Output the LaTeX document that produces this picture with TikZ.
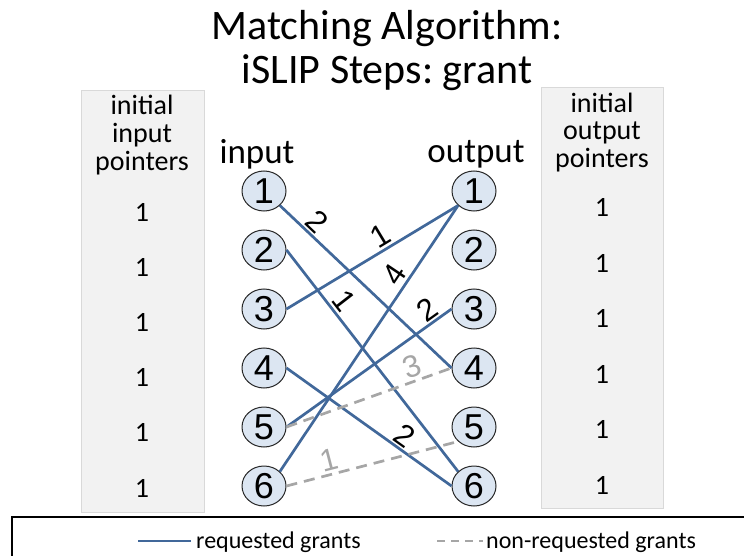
\documentclass[tikz,border=0pt]{standalone}
\usepackage{fontspec}
\setmainfont{Carlito}
\newfontfamily\digitfont{Liberation Sans}
\usetikzlibrary{shapes.geometric}
\definecolor{grantblue}{HTML}{41689A}
\definecolor{grantgray}{HTML}{A6A6A6}
\definecolor{portfill}{HTML}{DCE6F2}
\definecolor{panelfill}{HTML}{F2F2F2}
\definecolor{panelline}{HTML}{D9D9D9}
\frenchspacing
\begin{document}
\begin{tikzpicture}[x=1pt,y=1pt,
  port/.style={ellipse, draw=black!85, line width=1pt, fill=portfill,
    minimum width=44pt, minimum height=40pt, inner sep=0pt,
    font=\digitfont\fontsize{36}{36}\selectfont},
  grant/.style={draw=grantblue, line width=2.7pt},
  freegrant/.style={draw=grantgray, line width=2.7pt, dash pattern=on 11pt off 7pt},
  wlabel/.style={sloped, above=2pt, inner sep=0pt,
    font=\digitfont\fontsize{31}{31}\selectfont},
  panel/.style={draw=panelline, line width=0.8pt, fill=panelfill},
  paneltext/.style={inner sep=0pt, anchor=base, font=\fontsize{28}{28}\selectfont},
  pointer/.style={inner sep=0pt, font=\fontsize{28}{28}\selectfont},
  heading/.style={inner sep=0pt, anchor=base, font=\fontsize{42}{42}\selectfont},
  side/.style={inner sep=0pt, anchor=base, font=\fontsize{35}{35}\selectfont},
  legendtext/.style={inner sep=0pt, anchor=base west, font=\fontsize{24}{24}\selectfont}]
\useasboundingbox (0,0) rectangle (744,-556);
\clip (0,0) rectangle (744,-556);

% title
\node[heading] (t1) at (387,-40) {Matching Algorithm:};
\node[heading] (t2) at (387,-84) {iSLIP Steps: grant};

% pointer panels
\draw[panel] (81,-90) rectangle (204,-512);
\draw[panel] (541,-87) rectangle (663,-508);
\node[paneltext] (li1) at (142,-115) {initial};
\node[paneltext] (li2) at (142,-143) {input};
\node[paneltext] (li3) at (142,-171) {pointers};
\node[paneltext] (ro1) at (602,-113) {initial};
\node[paneltext] (ro2) at (602,-140) {output};
\node[paneltext] (ro3) at (602,-168) {pointers};
\foreach \k/\y in {1/212,2/267,3/322,4/377,5/432,6/488}
  \node[pointer] (lp\k) at (142,-\y) {1};
\foreach \k/\y in {1/207,2/263,3/318,4/374,5/429,6/485}
  \node[pointer] (rp\k) at (602,-\y) {1};

% column headings
\node[side] (inlab) at (257,-164) {input};
\node[side] (outlab) at (476,-163) {output};

% ports
\foreach \k/\y in {1/191,2/250,3/309,4/368,5/427,6/486} {
  \node[port] (i\k) at (264,-\y) {\k};
  \node[port] (o\k) at (474,-\y) {\k};
}

% requested grants
\draw[grant] (i1.south east) -- node[wlabel, pos=0.16] {2} (o4.west);
\draw[grant] (i2.east) -- node[wlabel, pos=0.27] {1} (o6.north west);
\draw[grant] (i3.east) -- node[wlabel, pos=0.59] {1} (o1.south west);
\draw[grant] (i6.north east) -- node[wlabel, pos=0.71] {4} (o1.south west);
\draw[grant] (i5.east) -- node[wlabel, pos=0.90] {2} (o3.west);
\draw[grant] (i4.east) -- node[wlabel, pos=0.67] {2} (o6.west);

% non-requested grants
\draw[freegrant] (i5.east) -- node[wlabel, text=grantgray, pos=0.79] {3} (o4.west);
\draw[freegrant] (i6.east) -- node[wlabel, text=grantgray, pos=0.27] {1} (o5.south west);

% legend
\draw[line width=1.5pt] (12,-580) -- (12,-517) -- (760,-517);
\coordinate (la) at (138,-541);
\coordinate (lb) at (191,-541);
\coordinate (lc) at (437,-541);
\coordinate (ld) at (483,-541);
\draw[grant] (la) -- (lb);
\node[legendtext] (lt1) at (196,-548) {requested grants};
\draw[freegrant, dash pattern=on 8pt off 6pt] (lc) -- (ld);
\node[legendtext] (lt2) at (486,-548) {non-requested grants};
\end{tikzpicture}
\end{document}
